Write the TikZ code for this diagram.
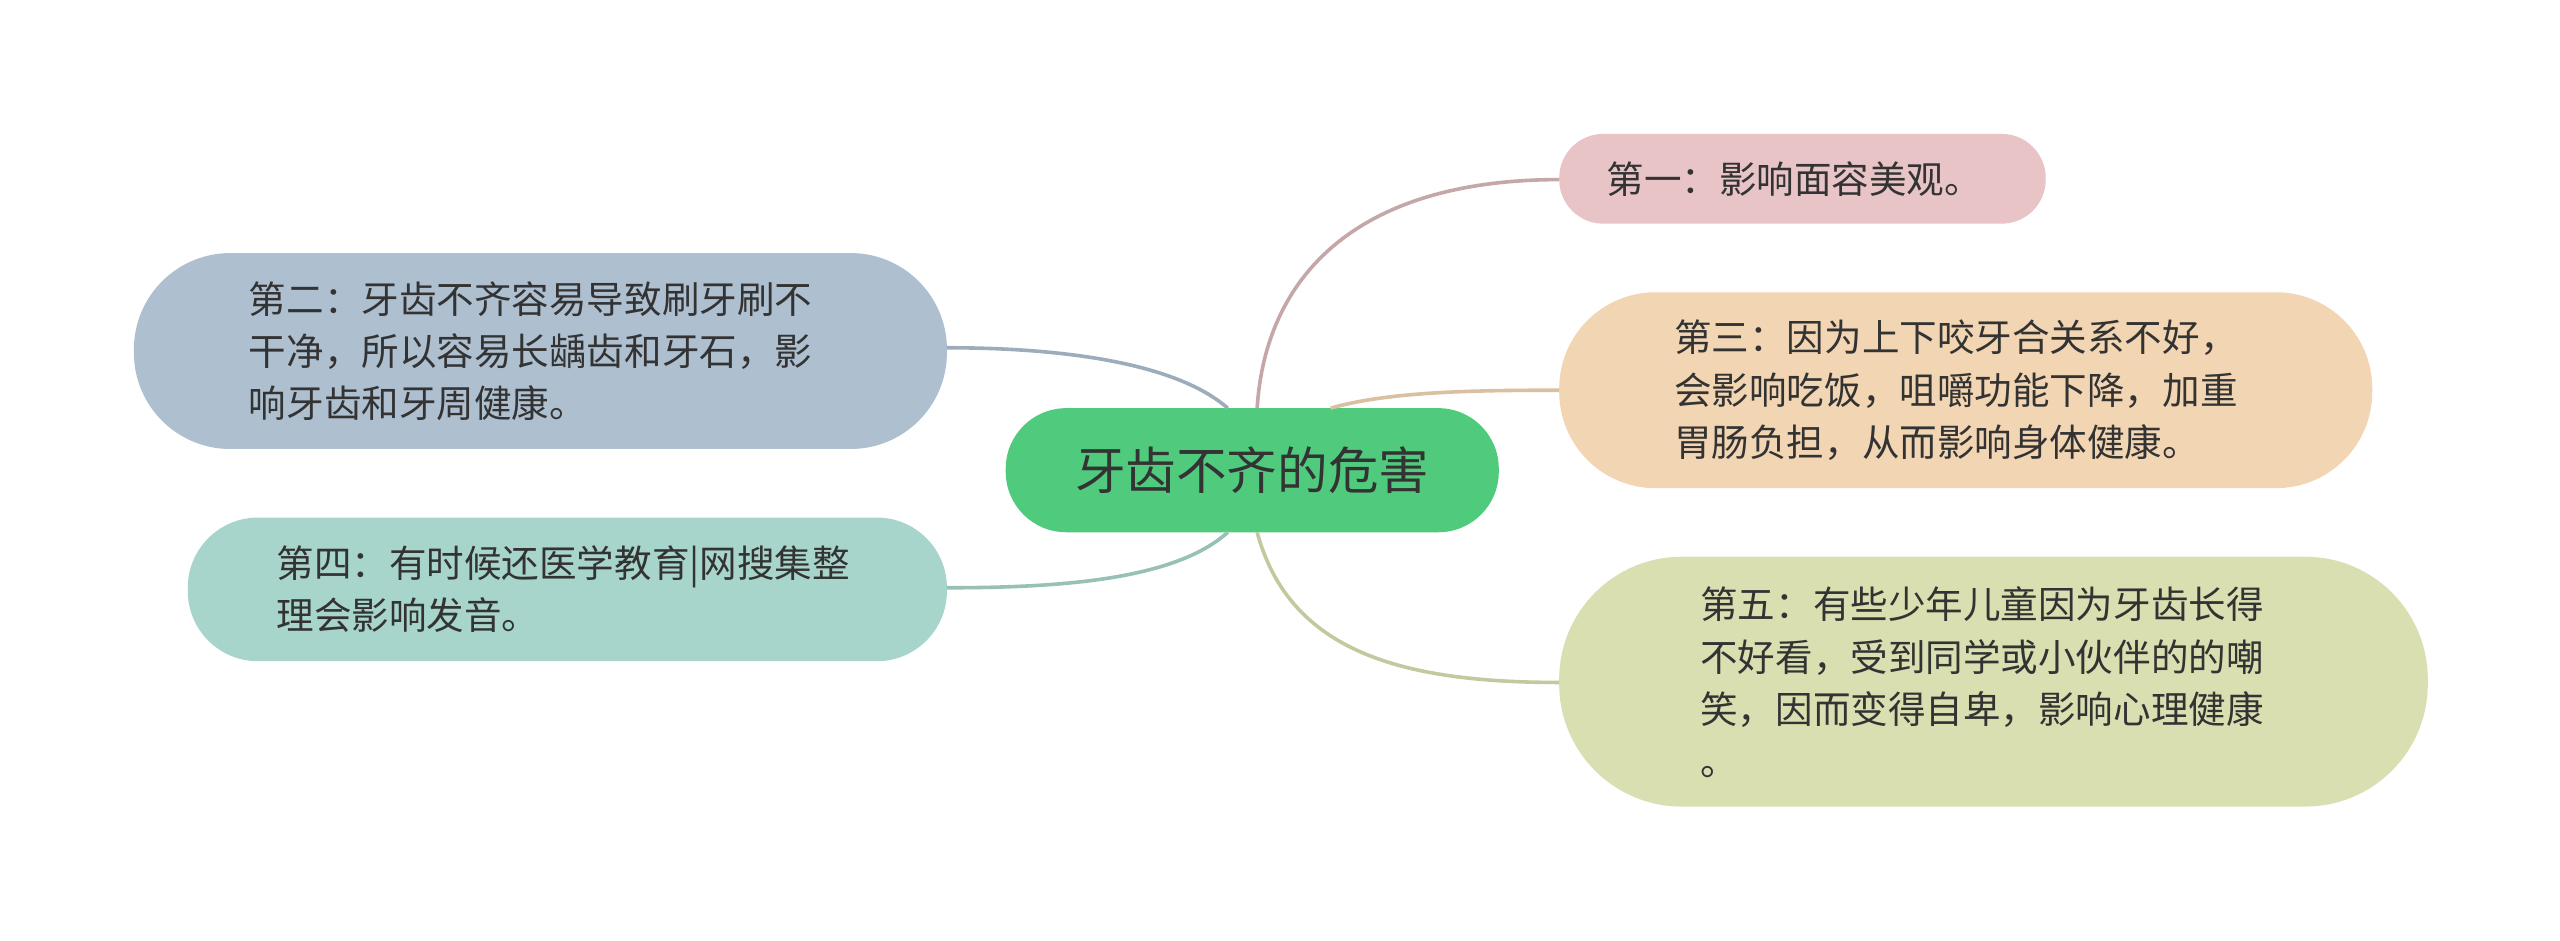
\documentclass[tikz,border=0pt]{standalone}
\usepackage{fontspec}
\setmainfont{Noto Sans CJK SC}
\begin{document}
\begin{tikzpicture}[x=1pt,y=-1pt,
  leaf/.style={fill=#1, draw=none, align=left, inner sep=0pt, text=black!80,
    font=\fontsize{23}{32}\selectfont},
  link/.style={draw=#1, line width=2.2pt},
]
\fill[white] (0,0) rectangle (1568,576);
\useasboundingbox (0,0) rectangle (1568,576);
\definecolor{cA}{HTML}{E8C4C6}\definecolor{cB}{HTML}{AEBFD0}
\definecolor{cC}{HTML}{F2D5B2}\definecolor{cD}{HTML}{A8D5CB}
\definecolor{cE}{HTML}{D9DFB0}\definecolor{cR}{HTML}{50CB7E}
% boxes
\fill[cA, rounded corners=27pt] (955,82) rectangle (1253,137);
\fill[cB, rounded corners=59pt] (82,155) rectangle (580,275);
\fill[cC, rounded corners=59pt] (955,179) rectangle (1453,299);
\fill[cD, rounded corners=43pt] (115,317) rectangle (580,405);
\fill[cE, rounded corners=75pt] (955,341) rectangle (1487,494);
\fill[cR, rounded corners=37pt] (616,250) rectangle (918,326);
% coordinates for connector ends
\coordinate (a) at (955,110); \coordinate (b) at (580,213);
\coordinate (c) at (955,239); \coordinate (d) at (580,360);
\coordinate (e) at (955,418);
\coordinate (r1) at (770,250); \coordinate (r3) at (815,250);
\coordinate (r5) at (770,326); \coordinate (r2) at (752,250); \coordinate (r4) at (752,326);
\draw[link=cA!85!black] (r1) .. controls (775,170) and (830,110) .. (a);
\draw[link=cC!90!black] (r3) .. controls (850,240) and (900,239) .. (c);
\draw[link=cE!90!black] (r5) .. controls (790,400) and (860,418) .. (e);
\draw[link=cB!90!black] (r2) .. controls (720,222) and (650,213) .. (b);
\draw[link=cD!90!black] (r4) .. controls (720,355) and (650,360) .. (d);
% texts
\node[inner sep=0pt, text=black!80, font=\fontsize{31}{36}\selectfont] (root) at (767,288) {牙齿不齐的危害};
\node[leaf=cA] (n1) at (1099,110) {第一：影响面容美观。};
\node[leaf=cB] (n2) at (325,215) {第二：牙齿不齐容易导致刷牙刷不\\干净，所以容易长龋齿和牙石，影\\响牙齿和牙周健康。};
\node[leaf=cC] (n3) at (1198,239) {第三：因为上下咬牙合关系不好，\\会影响吃饭，咀嚼功能下降，加重\\胃肠负担，从而影响身体健康。};
\node[leaf=cD] (n4) at (345,361) {第四：有时候还医学教育|网搜集整\\理会影响发音。};
\node[leaf=cE] (n5) at (1214,418) {第五：有些少年儿童因为牙齿长得\\不好看，受到同学或小伙伴的的嘲\\笑，因而变得自卑，影响心理健康\\。};
\end{tikzpicture}
\end{document}
